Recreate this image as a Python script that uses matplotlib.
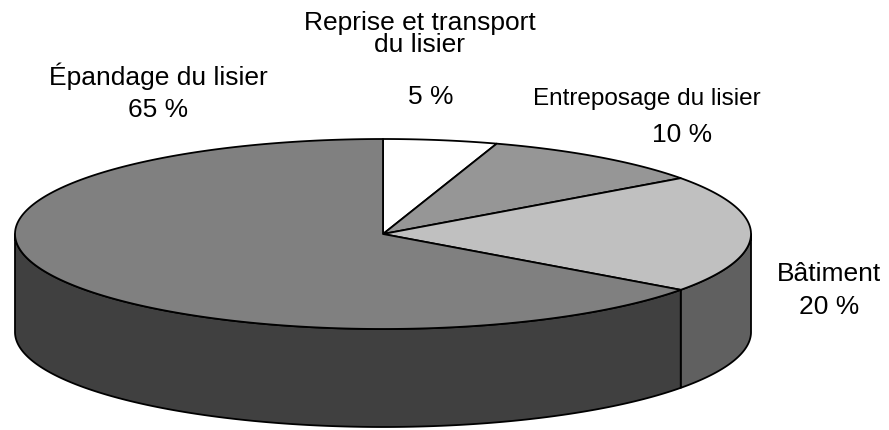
import numpy as np
import matplotlib.pyplot as plt
from matplotlib.patches import Polygon

# data
labels = ['Reprise et transport\ndu lisier', 'Entreposage du lisier', 'Bâtiment', 'Épandage du lisier']
values = [5, 10, 20, 65]
top_colors = ['#ffffff', '#969696', '#c0c0c0', '#808080']
side_colors = ['#e0e0e0', '#6a6a6a', '#606060', '#404040']

# layout (pixels, y down)
cx, cy = 383, 235
a, b = 368, 95
depth = 98
lw = 1.3

plt.rcParams['font.family'] = ['Liberation Sans', 'DejaVu Sans']

fig = plt.figure(figsize=(8.89, 4.31), dpi=100)
ax = fig.add_axes([0, 0, 1, 1])
ax.set_xlim(0, 889)
ax.set_ylim(431, 0)
ax.axis('off')


def arc(t0, t1, dy=0, n=200):
    t = np.linspace(t0, t1, n)
    return np.column_stack([cx + a * np.sin(t), cy - b * np.cos(t) + dy])


fracs = np.array(values) / float(sum(values))
edges = np.concatenate([[0], np.cumsum(fracs)]) * 2 * np.pi

# sides (only front half, angles pi/2 .. 3pi/2 clockwise from top)
for i in range(len(values)):
    t0 = max(edges[i], np.pi / 2)
    t1 = min(edges[i + 1], 3 * np.pi / 2)
    if t1 <= t0:
        continue
    top = arc(t0, t1)
    bot = arc(t0, t1, depth)[::-1]
    ax.add_patch(Polygon(np.vstack([top, bot]), closed=True, fc=side_colors[i],
                         ec='black', lw=lw, joinstyle='round'))

# top faces
for i in range(len(values)):
    pts = np.vstack([[cx, cy], arc(edges[i], edges[i + 1])])
    ax.add_patch(Polygon(pts, closed=True, fc=top_colors[i], ec='black',
                         lw=lw, joinstyle='round'))

# labels
label_pos = [(420, 34), (647, 99), (829, 274), (158, 76)]
pct_pos = [(431, 97), (682, 135), (829, 307), (158, 110)]
label_size = [19, 17.5, 19, 19]
for i in range(len(values)):
    ax.text(label_pos[i][0], label_pos[i][1], labels[i], ha='center', va='center',
            fontsize=label_size[i], linespacing=0.85)
    ax.text(pct_pos[i][0], pct_pos[i][1], '%d %%' % values[i], ha='center',
            va='center', fontsize=19)

plt.savefig('out.png', dpi=100)
